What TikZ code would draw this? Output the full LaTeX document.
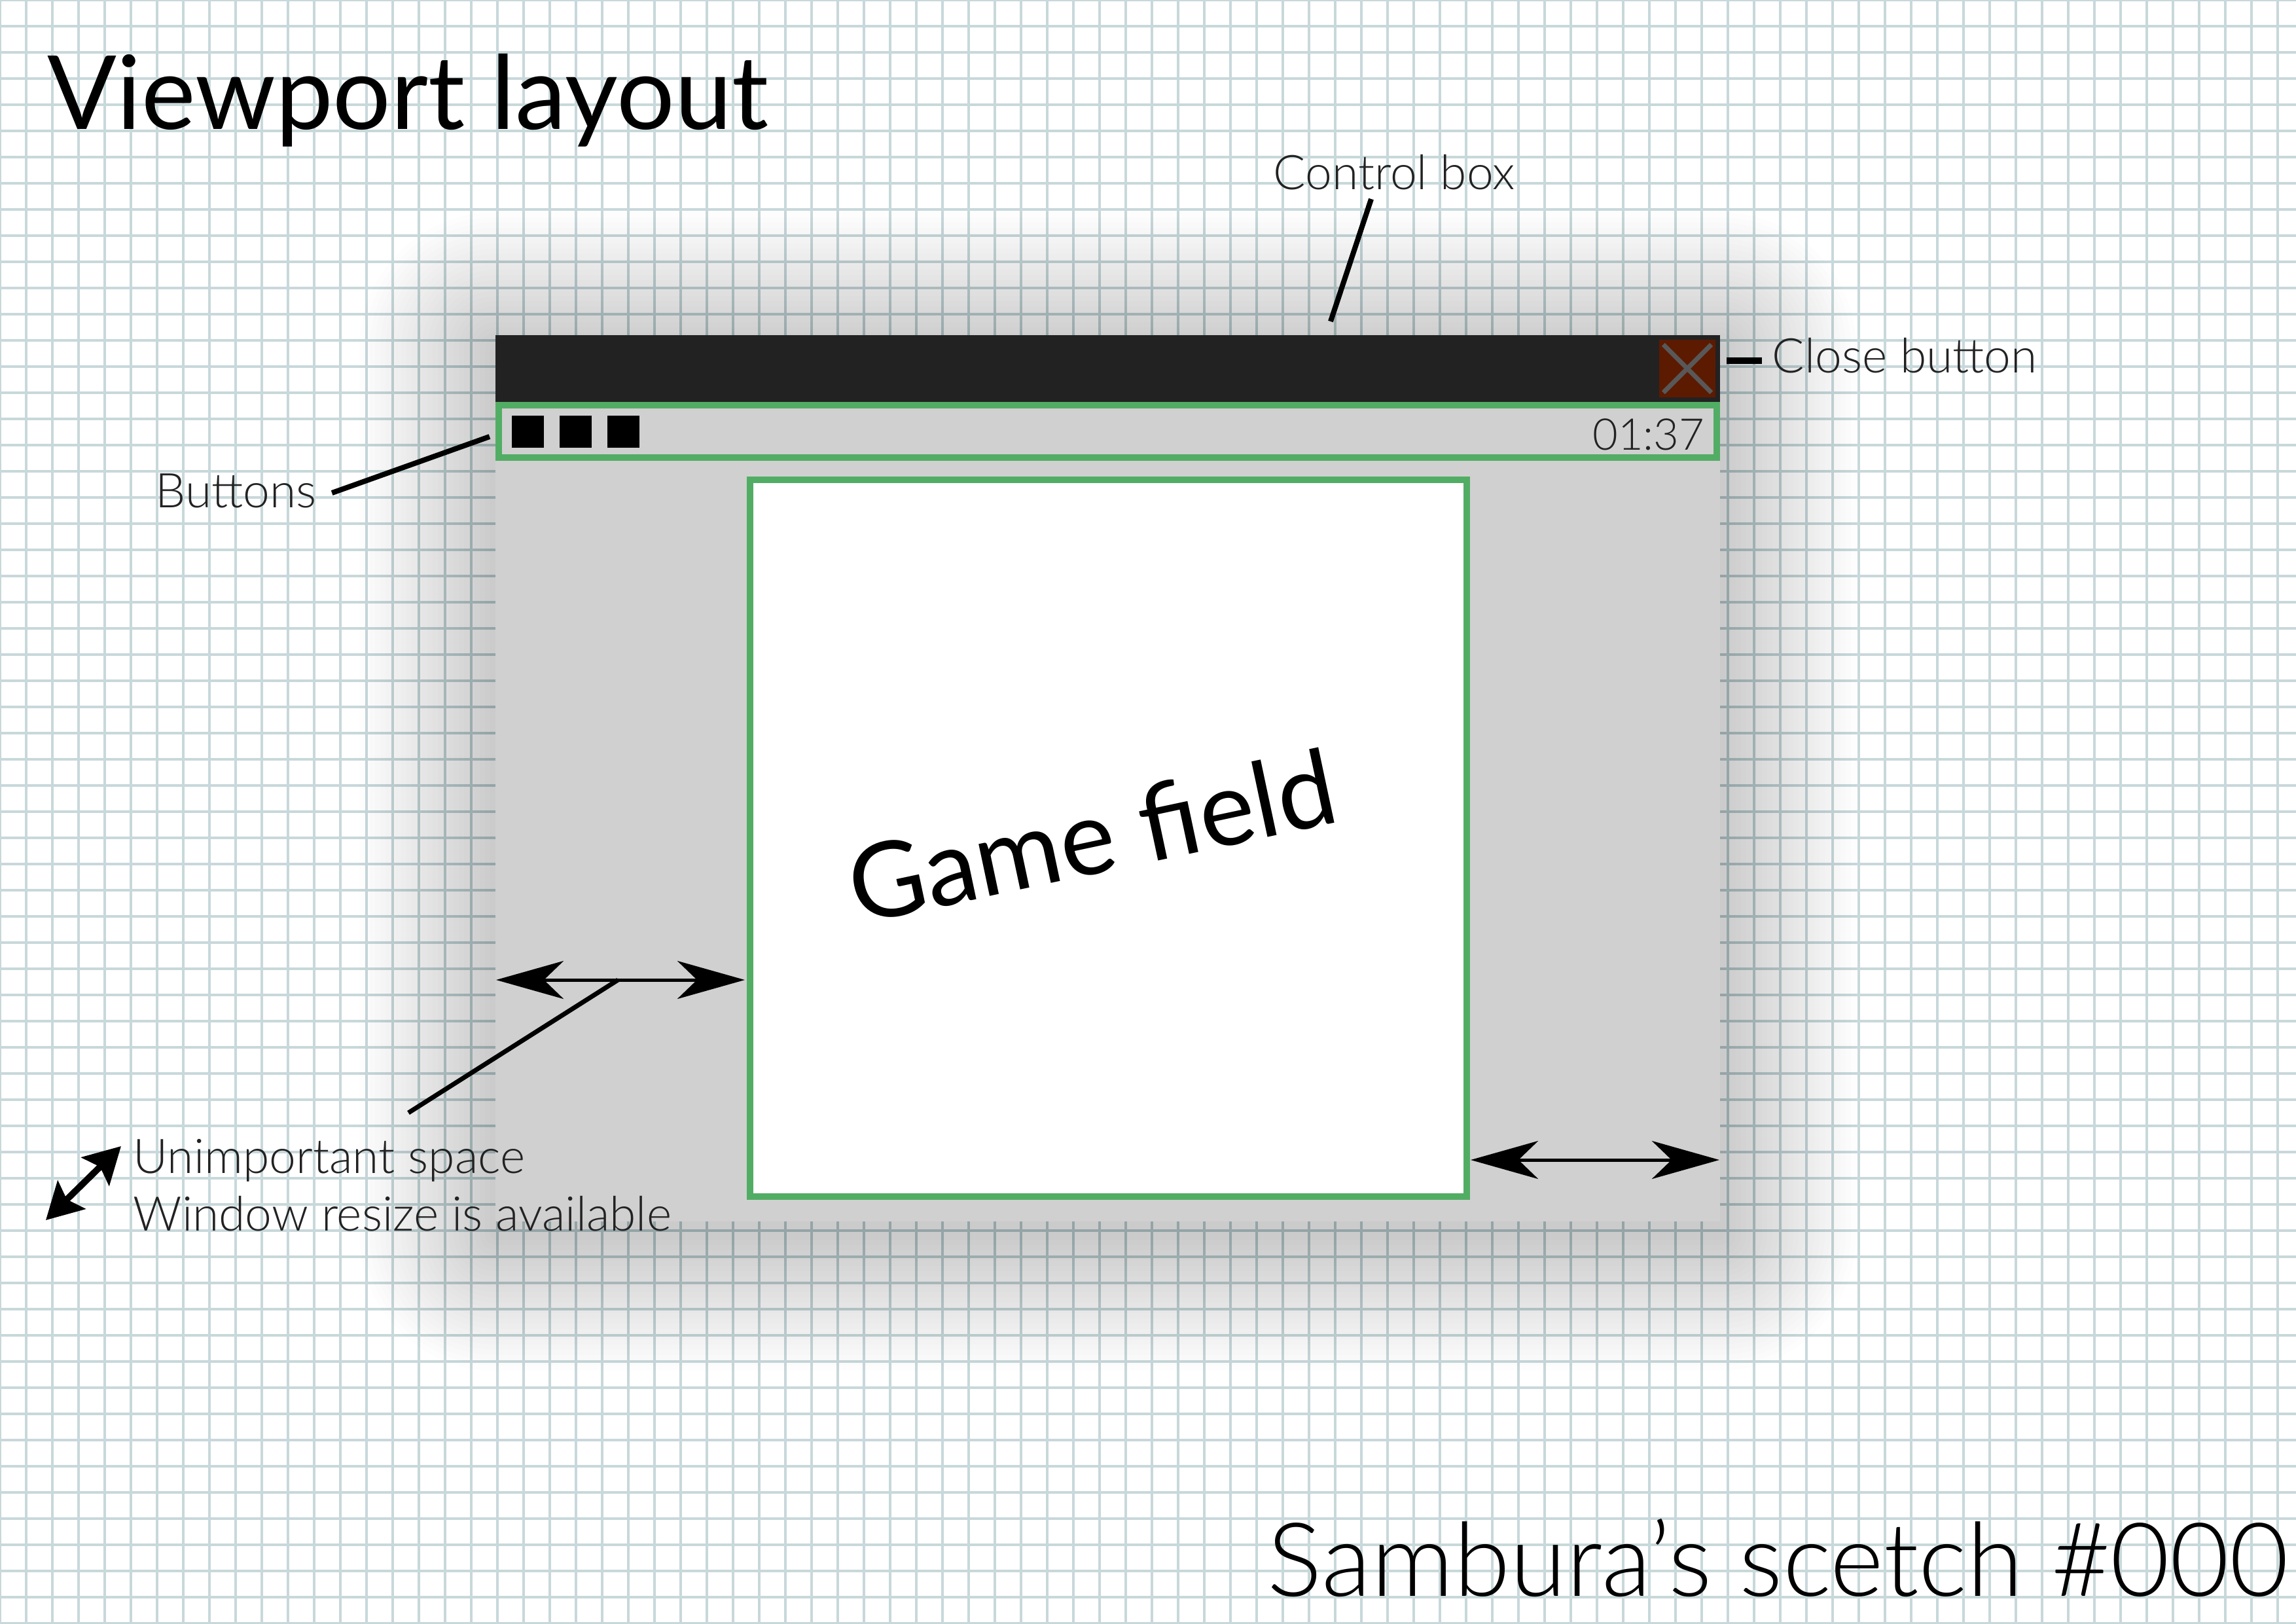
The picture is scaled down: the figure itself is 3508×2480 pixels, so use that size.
\documentclass[tikz,border=0pt]{standalone}
\usepackage{fontspec}
\setmainfont{Lato Light}
\newfontfamily\latoreg{Lato}
\usepackage{xcolor}
\usepackage{tikz}
\usetikzlibrary{arrows.meta, positioning, calc}

\definecolor{gridcol}{RGB}{200,216,219}
\definecolor{winbody}{RGB}{208,208,208}
\definecolor{titlebar}{RGB}{34,34,34}
\definecolor{okgreen}{RGB}{82,173,100}
\definecolor{closered}{RGB}{92,26,0}
\definecolor{crossgray}{RGB}{88,88,88}
\definecolor{inkgray}{RGB}{34,34,34}

\tikzset{
    gridline/.style={draw=gridcol, line width=0.045cm},
    greenframe/.style={draw=okgreen, line width=0.1cm},
    closebox/.style={fill=closered, inner sep=0pt, minimum width=0.86cm, minimum height=0.88cm},
    crossline/.style={draw=crossgray, line width=0.07cm},
    fieldbox/.style={draw=okgreen, fill=white, line width=0.1cm, inner sep=0pt, minimum size=10.95cm},
    note/.style={font=\fontsize{20.8}{25}\selectfont, text=inkgray, inner sep=0pt},
    clock/.style={font=\fontsize{19}{24}\selectfont, text=inkgray, inner sep=0pt},
    heading/.style={font=\latoreg\fontsize{44.5}{52}\selectfont, text=black, inner sep=0pt},
    signstyle/.style={font=\fontsize{44.5}{52}\selectfont, text=black, inner sep=0pt},
    bigtext/.style={font=\latoreg\fontsize{45.5}{52}\selectfont, text=black, inner sep=0pt},
    leader/.style={draw=black, line width=0.08cm},
    gaparrow/.style={{Stealth[length=1.03cm, width=0.58cm, inset=0.3cm]}-{Stealth[length=1.03cm, width=0.58cm, inset=0.3cm]}, line width=0.05cm},
    resizearrow/.style={{Stealth[length=0.55cm, width=0.6cm, inset=0.1cm]}-{Stealth[length=0.55cm, width=0.6cm, inset=0.1cm]}, line width=0.1cm}
}

\begin{document}
\begin{tikzpicture}[x=0.01cm, y=-0.01cm, line cap=butt, line join=miter]

    \useasboundingbox (0,0) rectangle (3508,2480);
    \fill[white] (0,0) rectangle (3508,2480);

    % Squared paper
    \foreach \gx in {0,40,...,3480}{
        \draw[gridline] (\gx,0) -- (\gx,2480);
    }
    \foreach \gy in {0,40,...,2480}{
        \draw[gridline] (0,\gy) -- (3508,\gy);
    }

    % Soft shadow round the window
    \foreach \i in {1,...,26}{
        \fill[black, opacity=0.0065, rounded corners={\i*0.08cm}]
            ({757-8*\i},{532-8*\i}) rectangle ({2628+8*\i},{1886+8*\i});
    }

    % Window
    \fill[winbody] (757,512) rectangle (2628,1866);
    \fill[titlebar] (757,512) rectangle (2628,614);
    \draw[greenframe] (762,619) rectangle (2623,699);

    % Buttons
    \foreach \bx in {782,855,928}{
        \fill[black] (\bx,635) rectangle ++(49,49);
    }

    % Close button
    \node[closebox] (closebtn) at (2578,563) {};
    \draw[crossline] ([shift={(7,8)}]closebtn.north west) -- ([shift={(-7,-8)}]closebtn.south east);
    \draw[crossline] ([shift={(-7,8)}]closebtn.north east) -- ([shift={(7,-8)}]closebtn.south west);

    % Timer
    \node[clock, anchor=base east] (timer) at (2605,687) {01:37};

    % Game field
    \node[fieldbox] (field) at (1693.5,1280.5) {};
    \node[bigtext, rotate=12] (fieldtext) at (1668,1277) {Game field};

    % Free space arrows
    \coordinate (gapLa) at (758,1497);
    \coordinate (gapLb) at (1138,1497);
    \coordinate (gapRa) at (2247,1772);
    \coordinate (gapRb) at (2627,1772);
    \draw[gaparrow] (gapLa) -- (gapLb);
    \draw[gaparrow] (gapRa) -- (gapRb);

    % Labels
    \node[heading, anchor=base west] (title) at (72,197) {Viewport layout};
    \node[note, anchor=base west] (ctrllabel) at (1945,289) {Control box};
    \node[note, anchor=base west] (closelabel) at (2707,569) {Close button};
    \node[note, anchor=base west] (btnlabel) at (237,775) {Buttons};
    \node[note, anchor=base west] (spacelabel) at (203,1792) {Unimportant space};
    \node[note, anchor=base west] (resizelabel) at (203,1880) {Window resize is available};
    \node[signstyle, anchor=base west] (signature) at (1936,2438) {Sambura’s scetch \#000};

    % Leaders
    \coordinate (ctrlfoot) at (2033,491);
    \coordinate (closefoot) at (2638,551);
    \coordinate (btnfoot) at (748,667);
    \coordinate (spacefoot) at (624,1700);
    \draw[leader] ([shift={(150,15)}]ctrllabel.base west) -- (ctrlfoot);
    \draw[leader, line width=0.1cm] ([shift={(-15,-18)}]closelabel.base west) -- (closefoot);
    \draw[leader] ([shift={(23,-22)}]btnlabel.base east) -- (btnfoot);
    \draw[leader, line width=0.07cm] (spacefoot) -- ($(gapLa)!0.49!(gapLb)$);

    % Resize sign
    \coordinate (resizeA) at (70,1864);
    \coordinate (resizeB) at (185,1751);
    \draw[resizearrow] (resizeA) -- (resizeB);

\end{tikzpicture}
\end{document}
